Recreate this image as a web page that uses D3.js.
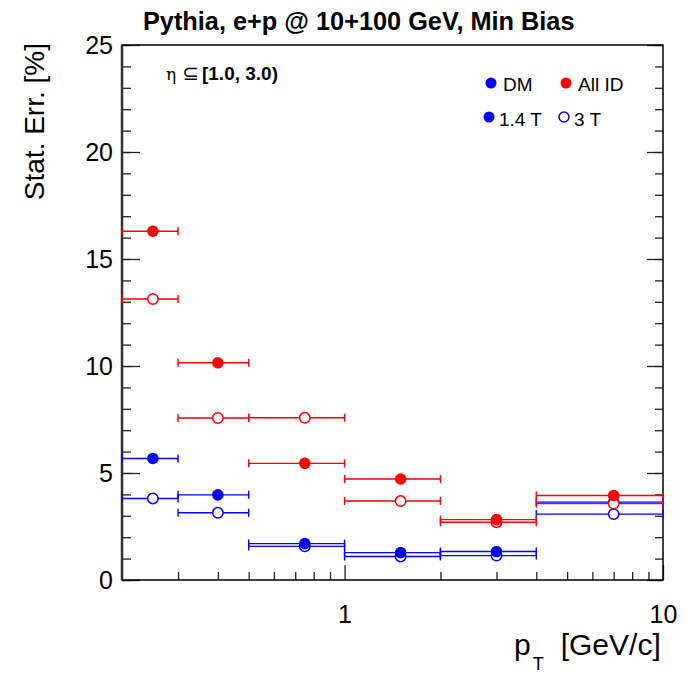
<!DOCTYPE html>
<html>
<head>
<meta charset="utf-8">
<script src="https://cdn.jsdelivr.net/npm/d3@7"></script>
<style>
  html, body { margin: 0; padding: 0; background: #fff; overflow: hidden; }
  svg { display: block; font-family: "Liberation Sans", Arial, Helvetica, sans-serif; }
</style>
</head>
<body>
<div id="chart"></div>
<script>
// pT bins [GeV/c]
const binLow = [0.2, 0.3, 0.5, 1, 2, 4]
const binHigh = [0.3, 0.5, 1, 2, 4, 10]
const binCenter = [0.25, 0.4, 0.75, 1.5, 3, 7]

// statistical error [%]
const dm3T = [3.81, 3.14, 1.57, 1.10, 1.14, 3.08]
const dm14T = [5.68, 3.98, 1.70, 1.28, 1.33, 3.64]
const allId3T = [13.13, 7.57, 7.58, 3.69, 2.70, 3.57]
const allId14T = [16.30, 10.15, 5.45, 4.72, 2.82, 3.95]

const yMajorTicks = [0, 5, 10, 15, 20, 25]
const xMajorTicks = [1, 10]
const xMinorTicks = [0.3, 0.4, 0.5, 0.6, 0.7, 0.8, 0.9, 2, 3, 4, 5, 6, 7, 8, 9]

const series = [
  { name: 'DM 3 T', values: dm3T, color: '#0000ff', filled: false },
  { name: 'DM 1.4 T', values: dm14T, color: '#0000ff', filled: true },
  { name: 'All ID 3 T', values: allId3T, color: '#ff0000', filled: false },
  { name: 'All ID 1.4 T', values: allId14T, color: '#ff0000', filled: true }
]

const legendItems = [
  { label: 'DM', color: '#0000ff', filled: true, col: 0, row: 0 },
  { label: 'All ID', color: '#ff0000', filled: true, col: 1, row: 0 },
  { label: '1.4 T', color: '#0000ff', filled: true, col: 0, row: 1 },
  { label: '3 T', color: '#0000ff', filled: false, col: 1, row: 1 }
]

const fontFamily = '"Liberation Sans", Arial, Helvetica, sans-serif'

const chart = {
  width: 687,
  height: 677,
  margin: { top: 45, right: 24, bottom: 97, left: 122 }
}
const innerWidth = chart.width - chart.margin.left - chart.margin.right
const innerHeight = chart.height - chart.margin.top - chart.margin.bottom

const svg = d3.select('#chart')
  .append('svg')
  .attr('width', chart.width)
  .attr('height', chart.height)

const g = svg.append('g')
  .attr('transform', `translate(${chart.margin.left},${chart.margin.top})`)

const x = d3.scaleLog().domain([0.2, 10]).range([0, innerWidth])
const y = d3.scaleLinear().domain([0, 25]).range([innerHeight, 0])

// y axis, left: minor then major ticks pointing inwards
g.append('g')
  .call(d3.axisLeft(y).tickValues(d3.range(0, 26, 1)).tickSizeInner(-9).tickSizeOuter(0).tickFormat(''))
  .selectAll('text').remove()
g.append('g')
  .call(d3.axisLeft(y).tickValues(yMajorTicks).tickSizeInner(-18).tickSizeOuter(0).tickPadding(9).tickFormat(d3.format('d')))
  .attr('font-family', fontFamily)
  .selectAll('text')
  .attr('font-size', 25)
  .attr('fill', '#000')

// y axis, right side ticks
const right = g.append('g').attr('transform', `translate(${innerWidth},0)`)
right.call(d3.axisLeft(y).tickValues(d3.range(0, 26, 1)).tickSizeInner(8).tickSizeOuter(0).tickFormat(''))
right.append('g').call(d3.axisLeft(y).tickValues(yMajorTicks).tickSizeInner(16).tickSizeOuter(0).tickFormat(''))
right.selectAll('text').remove()

// x axis
g.append('g')
  .attr('transform', `translate(0,${innerHeight})`)
  .call(d3.axisBottom(x).tickValues(xMinorTicks).tickSizeInner(-8).tickSizeOuter(0).tickFormat(''))
  .selectAll('text').remove()
g.append('g')
  .attr('transform', `translate(0,${innerHeight})`)
  .call(d3.axisBottom(x).tickValues(xMajorTicks).tickSizeInner(-15).tickSizeOuter(0).tickPadding(25).tickFormat(d3.format('d')))
  .attr('font-family', fontFamily)
  .selectAll('text')
  .attr('font-size', 25)
  .attr('fill', '#000')

g.selectAll('.domain').remove()
g.selectAll('.tick line').attr('stroke', '#222').attr('stroke-width', 1.3)

// frame
g.append('rect')
  .attr('width', innerWidth)
  .attr('height', innerHeight)
  .attr('fill', 'none')
  .attr('stroke', '#000')
  .attr('stroke-width', 1.5)
g.append('line')
  .attr('x1', 0).attr('x2', 0)
  .attr('y1', 0).attr('y2', innerHeight)
  .attr('stroke', '#333')
  .attr('stroke-width', 2.5)

// data: horizontal bin-width bars with end caps, then markers
const capHalf = 4
const layer = g.selectAll('.series')
  .data(series)
  .enter()
  .append('g')
  .attr('class', 'series')

const points = layer.selectAll('.pt')
  .data(s => s.values.map((v, i) => ({ v, lo: binLow[i], hi: binHigh[i], c: binCenter[i], s })))
  .enter()
  .append('g')
  .attr('class', 'pt')

points.append('line')
  .attr('x1', d => x(d.lo)).attr('x2', d => x(d.hi))
  .attr('y1', d => y(d.v)).attr('y2', d => y(d.v))
  .attr('stroke', d => d.s.color)
  .attr('stroke-width', 1.4)
points.append('line')
  .attr('x1', d => x(d.lo)).attr('x2', d => x(d.lo))
  .attr('y1', d => y(d.v) - capHalf).attr('y2', d => y(d.v) + capHalf)
  .attr('stroke', d => d.s.color)
  .attr('stroke-width', 1.4)
points.append('line')
  .attr('x1', d => x(d.hi)).attr('x2', d => x(d.hi))
  .attr('y1', d => y(d.v) - capHalf).attr('y2', d => y(d.v) + capHalf)
  .attr('stroke', d => d.s.color)
  .attr('stroke-width', 1.4)
points.append('circle')
  .attr('cx', d => x(d.c))
  .attr('cy', d => y(d.v))
  .attr('r', d => d.s.filled ? 5.8 : 5.2)
  .attr('fill', d => d.s.filled ? d.s.color : '#fff')
  .attr('stroke', d => d.s.color)
  .attr('stroke-width', d => d.s.filled ? 0 : 1.5)

// legend
const legend = g.append('g').attr('transform', 'translate(369,38)')
const li = legend.selectAll('.item')
  .data(legendItems)
  .enter()
  .append('g')
  .attr('class', 'item')
  .attr('transform', d => `translate(${d.col * 75 + (d.row ? -2 : 0)},${d.row * 34})`)
li.append('circle')
  .attr('r', d => d.filled ? 5.5 : 5)
  .attr('fill', d => d.filled ? d.color : '#fff')
  .attr('stroke', d => d.color)
  .attr('stroke-width', d => d.filled ? 0 : 1.5)
li.append('text')
  .attr('x', d => d.row ? 10 : 12)
  .attr('y', d => d.row ? 9 : 8)
  .attr('font-size', 19)
  .text(d => d.label)

// eta range label
const eta = g.append('text')
  .attr('x', 44)
  .attr('y', 35)
  .attr('font-size', 19)
eta.append('tspan').attr('font-family', '"DejaVu Serif", serif').attr('font-size', 17).text('η')
eta.append('tspan').attr('font-family', '"DejaVu Sans", sans-serif').attr('font-size', 20).attr('dx', 6).text('⊆')
eta.append('tspan').attr('font-weight', 'bold').attr('dx', 3).text('[1.0, 3.0)')

// title
svg.append('text')
  .attr('x', 143)
  .attr('y', 30)
  .attr('font-size', 25.3)
  .attr('font-weight', 'bold')
  .text('Pythia, e+p @ 10+100 GeV, Min Bias')

// axis titles
svg.append('text')
  .attr('transform', `translate(44,${chart.margin.top - 2}) rotate(-90)`)
  .attr('text-anchor', 'end')
  .attr('font-size', 28)
  .text('Stat. Err. [%]')

const xt = svg.append('text')
  .attr('x', 514)
  .attr('y', 655)
  .attr('font-size', 30)
xt.append('tspan').text('p')
xt.append('tspan').attr('font-size', 18).attr('dx', 2).attr('dy', 15).text('T')
xt.append('tspan').attr('dx', 17).attr('dy', -15).text('[GeV/c]')
</script>
</body>
</html>
